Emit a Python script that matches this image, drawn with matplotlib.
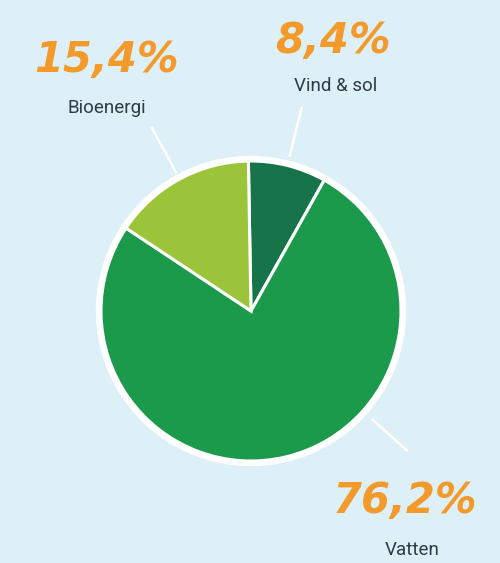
import matplotlib
matplotlib.use("Agg")
from matplotlib import pyplot as plt
import numpy as np

labels = ["Vind & sol", "Vatten", "Bioenergi"]
values = [8.4, 76.2, 15.4]
pct_labels = ["8,4%", "76,2%", "15,4%"]
colors = ["#17744a", "#1b9a4b", "#9cc43a"]

bg = "#ddeff7"
orange = "#f39a2b"
dark = "#2e3b42"

fig = plt.figure(figsize=(5, 5.63), dpi=100)
fig.patch.set_facecolor(bg)
ax = fig.add_axes([0, 0, 1, 1])

cx, cy, r = 251, 563 - 311, 150

# white outer ring
ax.add_patch(plt.Circle((cx, cy), r + 4.5, color="white", zorder=1))
ax.pie(values, colors=colors, startangle=91, counterclock=False,
       center=(cx, cy), radius=r, frame=True,
       wedgeprops=dict(edgecolor="white", linewidth=2.2, zorder=2))
ax.set_xlim(0, 500)
ax.set_ylim(0, 563)
ax.set_aspect("equal")
ax.axis("off")

# leader lines (angle in degrees, inner radius, outer radius)
leaders = [(76, 160, 209), (-41.8, 163, 209), (118.4, 158, 208)]
for ang, r0, r1 in leaders:
    a = np.deg2rad(ang)
    ax.plot([cx + r0 * np.cos(a), cx + r1 * np.cos(a)],
            [cy + r0 * np.sin(a), cy + r1 * np.sin(a)],
            color="white", lw=1.8, zorder=3)

# text positions in pixel coords (x, y from top)
pct_pos = [(333, 41), (405, 501), (107, 60)]
lab_pos = [(336, 86), (412, 550), (107, 108)]
for i in range(len(labels)):
    ax.text(pct_pos[i][0], 563 - pct_pos[i][1], pct_labels[i],
            ha="center", va="center", color=orange, fontsize=30,
            fontweight="bold", fontstyle="italic", family="DejaVu Sans")
    ax.text(lab_pos[i][0], 563 - lab_pos[i][1], labels[i],
            ha="center", va="center", color=dark, fontsize=13.5,
            family="Roboto")

fig.savefig("out.png", dpi=100, facecolor=bg)
